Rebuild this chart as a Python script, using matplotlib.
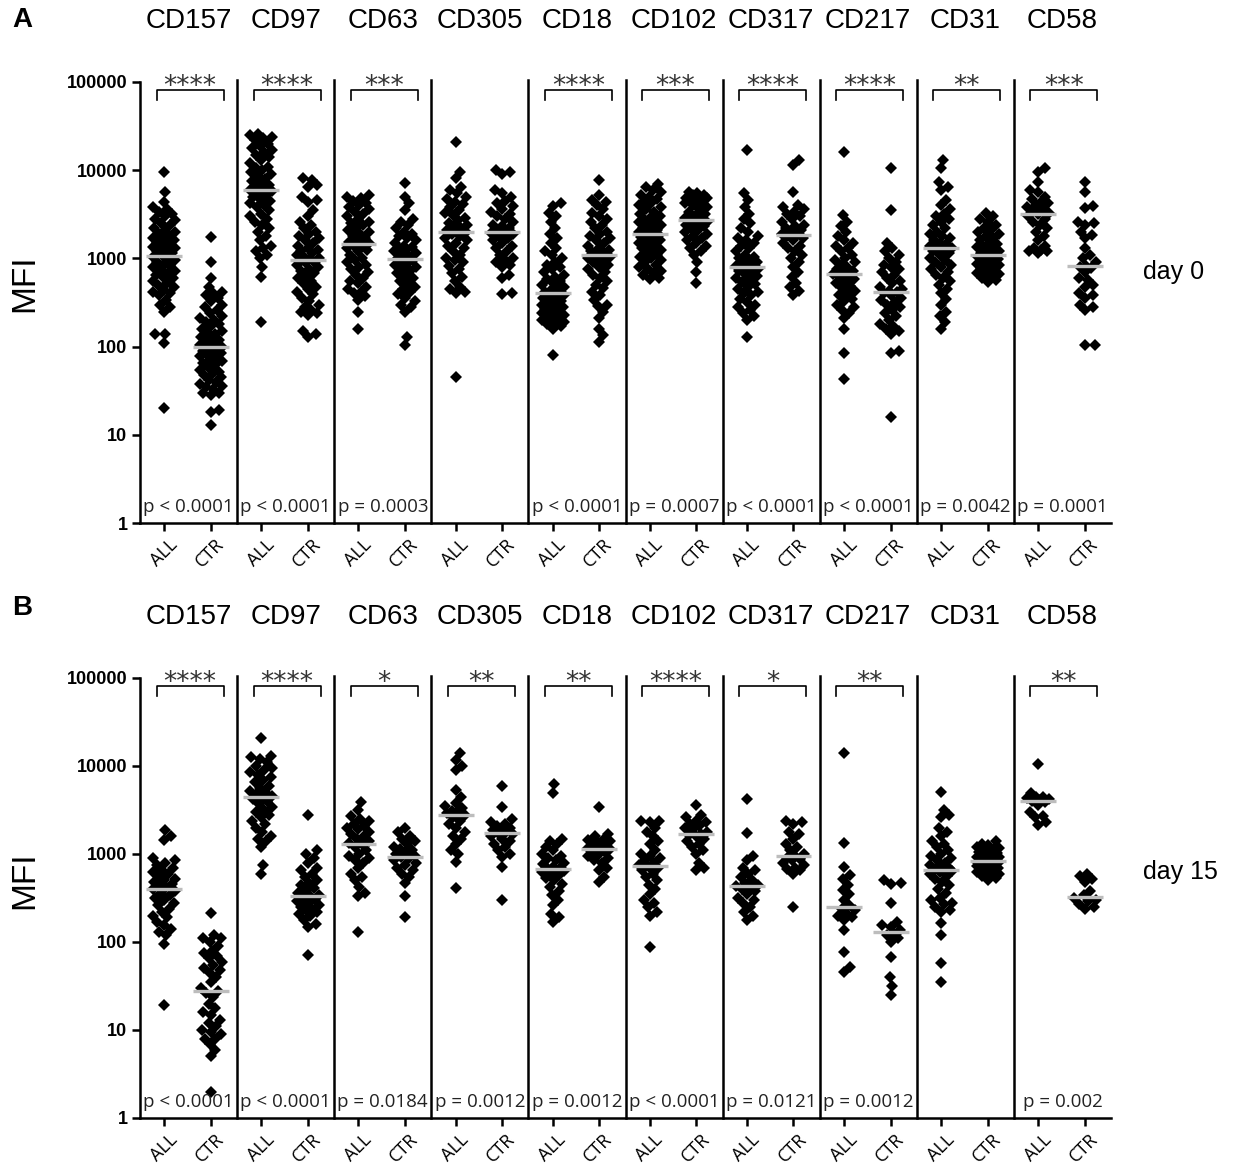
import numpy as np
import matplotlib.pyplot as plt
from matplotlib.transforms import ScaledTranslation

plt.rcParams['font.family'] = ['Liberation Sans', 'DejaVu Sans']

markers = ['CD157', 'CD97', 'CD63', 'CD305', 'CD18', 'CD102', 'CD317', 'CD217', 'CD31', 'CD58']
groups = ['ALL', 'CTR']

# ---- day 0 (panel A), MFI per sample ----
d0_cd157_all = [9500, 5700, 4400, 3800, 3600, 3400, 3200, 3000, 2800, 2700, 2500, 2400, 2200, 2100, 2000,
                1900, 1800, 1700, 1650, 1600, 1500, 1450, 1400, 1350, 1300, 1250, 1200, 1150, 1100, 1050,
                1000, 950, 900, 870, 830, 800, 760, 720, 680, 650, 620, 600, 560, 530, 500, 470, 440, 420,
                400, 380, 340, 300, 280, 250, 140, 140, 110, 20]
d0_cd157_ctr = [1750, 900, 600, 470, 420, 400, 380, 360, 330, 300, 280, 260, 240, 220, 210, 200, 190, 180,
                170, 160, 150, 145, 140, 130, 125, 120, 115, 110, 105, 100, 100, 95, 90, 88, 85, 80, 78, 75,
                70, 68, 66, 62, 58, 55, 52, 50, 48, 45, 42, 40, 38, 36, 35, 33, 30, 30, 28, 19, 18, 13]
d0_cd97_all = [26000, 25000, 24000, 23000, 22000, 20000, 19000, 18000, 17000, 16000, 15000, 14000, 13000,
               12000, 11000, 10500, 10000, 9500, 9000, 8500, 8000, 7500, 7000, 6800, 6500, 6300, 6000, 5800,
               5500, 5200, 5000, 4700, 4500, 4200, 4000, 3800, 3500, 3200, 3000, 2800, 2600, 2400, 2200,
               2000, 1800, 1600, 1400, 1300, 1200, 1100, 1000, 800, 620, 190]
d0_cd97_ctr = [8200, 7800, 6800, 6500, 5000, 4600, 4400, 3500, 3000, 2600, 2400, 2200, 2000, 1900, 1800,
               1700, 1600, 1500, 1400, 1300, 1250, 1200, 1150, 1100, 1050, 1000, 980, 950, 920, 900, 850,
               800, 760, 720, 680, 640, 600, 560, 520, 480, 450, 420, 390, 360, 330, 300, 280, 260, 250,
               240, 230, 150, 140, 130]
d0_cd63_all = [5200, 5000, 4800, 4500, 4300, 4000, 3800, 3600, 3400, 3200, 3000, 2800, 2600, 2500, 2400,
               2200, 2100, 2000, 1900, 1800, 1700, 1600, 1550, 1500, 1450, 1400, 1300, 1250, 1200, 1100,
               1000, 950, 900, 850, 800, 750, 700, 650, 600, 560, 520, 480, 450, 420, 400, 370, 340, 250, 160]
d0_cd63_ctr = [7100, 5000, 4200, 3500, 2800, 2600, 2400, 2200, 2000, 1900, 1800, 1700, 1600, 1500, 1400,
               1350, 1300, 1250, 1200, 1150, 1100, 1050, 1000, 980, 950, 900, 870, 840, 800, 760, 720, 680,
               640, 600, 560, 520, 480, 450, 420, 390, 360, 330, 300, 280, 250, 130, 105]
d0_cd305_all = [21000, 9600, 8200, 6500, 6000, 5500, 5000, 4700, 4400, 4100, 3800, 3500, 3300, 3100, 2900,
                2700, 2500, 2400, 2300, 2200, 2100, 2000, 2000, 1900, 1800, 1700, 1600, 1500, 1400, 1300,
                1200, 1100, 1000, 950, 900, 820, 750, 680, 620, 560, 480, 450, 420, 400, 45]
d0_cd305_ctr = [10000, 9500, 9000, 6000, 5500, 5000, 4500, 4200, 3900, 3600, 3400, 3200, 3000, 2800, 2600,
                2400, 2300, 2200, 2100, 2000, 1950, 1900, 1800, 1700, 1600, 1500, 1400, 1300, 1200, 1100,
                1000, 950, 900, 850, 800, 650, 600, 400, 390]
d0_cd18_all = [4200, 3900, 3300, 3000, 2600, 2200, 1900, 1700, 1500, 1300, 1200, 1100, 1000, 900, 850, 800,
               750, 700, 650, 620, 580, 550, 520, 500, 480, 460, 440, 420, 410, 400, 390, 380, 370, 360, 340,
               330, 320, 310, 300, 290, 280, 275, 270, 260, 250, 240, 235, 230, 220, 215, 210, 200, 190, 185,
               180, 170, 160, 80]
d0_cd18_ctr = [7800, 5200, 4600, 4400, 4000, 3600, 3300, 3000, 2800, 2600, 2400, 2200, 2000, 1900, 1800,
               1700, 1600, 1500, 1400, 1300, 1250, 1200, 1150, 1100, 1050, 1000, 950, 900, 850, 800, 750,
               700, 650, 600, 550, 500, 460, 420, 380, 340, 300, 290, 250, 210, 160, 135, 113]
d0_cd102_all = [7000, 6500, 6000, 5600, 5300, 5000, 4700, 4400, 4200, 4000, 3800, 3600, 3400, 3200, 3000,
                2900, 2800, 2700, 2600, 2500, 2400, 2300, 2200, 2100, 2050, 2000, 1950, 1900, 1850, 1800,
                1750, 1700, 1650, 1600, 1550, 1500, 1450, 1400, 1350, 1300, 1250, 1200, 1150, 1100, 1050,
                1000, 950, 900, 850, 800, 760, 720, 680, 640, 600, 580]
d0_cd102_ctr = [5600, 5500, 5300, 5200, 5000, 4900, 4800, 4600, 4500, 4400, 4200, 4000, 3800, 3600, 3400,
                3200, 3000, 2900, 2800, 2700, 2600, 2500, 2400, 2300, 2200, 2100, 2000, 1900, 1800, 1700,
                1600, 1500, 1400, 1300, 1200, 1100, 900, 700, 520]
d0_cd317_all = [17000, 5500, 4600, 3800, 3200, 2800, 2500, 2200, 2000, 1800, 1700, 1600, 1500, 1400, 1300,
                1200, 1100, 1050, 1000, 950, 900, 860, 830, 800, 780, 750, 720, 690, 660, 630, 600, 570,
                540, 510, 480, 450, 420, 400, 380, 350, 320, 300, 280, 260, 240, 220, 200, 130]
d0_cd317_ctr = [13000, 11500, 5600, 4000, 3800, 3600, 3400, 3200, 3000, 2800, 2600, 2400, 2300, 2200, 2100,
                2000, 1900, 1850, 1800, 1700, 1600, 1500, 1400, 1300, 1200, 1100, 1000, 900, 800, 700, 620,
                530, 470, 430, 385]
d0_cd217_all = [16000, 3100, 2600, 2300, 2000, 1800, 1600, 1500, 1400, 1300, 1200, 1100, 1000, 950, 900,
                850, 800, 760, 720, 690, 660, 640, 610, 580, 550, 520, 490, 460, 430, 400, 380, 350, 330,
                300, 280, 260, 240, 210, 160, 85, 43]
d0_cd217_ctr = [10700, 3500, 1500, 1300, 1200, 1100, 1000, 900, 850, 800, 750, 700, 650, 600, 560, 520,
                480, 450, 430, 415, 400, 380, 360, 340, 320, 300, 280, 260, 240, 220, 200, 180, 170, 160,
                150, 140, 90, 85, 16]
d0_cd31_all = [13000, 10500, 7300, 6500, 5900, 4600, 4000, 3600, 3200, 3000, 2800, 2600, 2400, 2200, 2000,
               1900, 1800, 1700, 1600, 1500, 1450, 1400, 1350, 1300, 1250, 1200, 1150, 1100, 1000, 950, 900,
               850, 800, 750, 700, 650, 600, 550, 500, 450, 400, 350, 300, 250, 220, 190, 160]
d0_cd31_ctr = [3300, 3000, 2800, 2600, 2400, 2200, 2100, 2000, 1900, 1800, 1700, 1600, 1500, 1450, 1400,
               1350, 1300, 1250, 1200, 1150, 1100, 1080, 1060, 1050, 1030, 1000, 980, 950, 920, 900, 870,
               840, 810, 780, 750, 720, 690, 660, 630, 600, 570, 540]
d0_cd58_all = [10500, 9500, 7300, 6000, 5600, 5000, 4700, 4400, 4200, 4000, 3800, 3600, 3400, 3300, 3200,
               3000, 2800, 2600, 2400, 2200, 2000, 1800, 1600, 1400, 1300, 1250, 1200, 1200, 1150]
d0_cd58_ctr = [7300, 5600, 3900, 3700, 2600, 2500, 2400, 2000, 1850, 1700, 1300, 1100, 1000, 900, 820, 800,
               780, 700, 600, 570, 500, 470, 400, 380, 360, 300, 280, 260, 105, 105]

# ---- day 15 (panel B) ----
d15_cd157_all = [1880, 1600, 1450, 900, 850, 800, 750, 700, 650, 620, 600, 560, 520, 500, 480, 460, 440,
                 420, 400, 380, 360, 340, 320, 300, 280, 260, 240, 220, 200, 190, 170, 155, 140, 130, 120,
                 95, 19]
d15_cd157_ctr = [215, 120, 110, 110, 100, 90, 80, 75, 70, 65, 60, 55, 50, 48, 45, 40, 35, 30, 28, 26, 24,
                 20, 18, 16, 15, 13, 12, 11, 10, 9.5, 9, 8, 8, 7, 6, 5, 2]
d15_cd97_all = [20800, 13000, 12500, 12000, 11000, 10000, 9500, 9000, 8500, 8000, 7500, 7000, 6500, 6000,
                5600, 5200, 5000, 4800, 4600, 4400, 4200, 4000, 3700, 3400, 3200, 3000, 2800, 2600, 2400,
                2200, 2000, 1800, 1600, 1500, 1400, 1200, 750, 600]
d15_cd97_ctr = [2770, 1100, 1000, 900, 800, 700, 650, 600, 550, 500, 470, 440, 410, 380, 360, 340, 330,
                320, 300, 290, 280, 260, 250, 240, 230, 220, 210, 200, 180, 160, 150, 72]
d15_cd63_all = [3900, 3200, 2700, 2500, 2400, 2200, 2100, 2000, 1900, 1800, 1700, 1600, 1500, 1400, 1350,
                1300, 1200, 1100, 1000, 950, 900, 850, 800, 700, 600, 550, 500, 420, 360, 330, 130]
d15_cd63_ctr = [1950, 1800, 1600, 1500, 1400, 1300, 1200, 1150, 1100, 1050, 1000, 950, 920, 900, 850, 800,
                750, 700, 650, 600, 550, 470, 330, 190]
d15_cd305_all = [14000, 11700, 10000, 9000, 5300, 4400, 3800, 3500, 3300, 3100, 3000, 2900, 2800, 2600,
                 2400, 2200, 2000, 1800, 1600, 1500, 1300, 1100, 1000, 810, 410]
d15_cd305_ctr = [6000, 3400, 2500, 2300, 2200, 2100, 2000, 1900, 1850, 1800, 1750, 1700, 1600, 1500, 1400,
                 1300, 1200, 1100, 1000, 930, 710, 300]
d15_cd18_all = [6300, 4900, 1500, 1400, 1300, 1200, 1100, 1000, 950, 900, 850, 800, 760, 720, 700, 680,
                660, 640, 620, 600, 570, 540, 500, 460, 420, 380, 340, 300, 260, 210, 190, 170]
d15_cd18_ctr = [3400, 1700, 1600, 1500, 1450, 1400, 1350, 1300, 1250, 1200, 1180, 1160, 1140, 1100, 1050,
                1000, 950, 900, 850, 800, 700, 650, 550, 480]
d15_cd102_all = [2400, 2400, 2300, 2000, 1800, 1600, 1400, 1300, 1100, 1000, 950, 900, 850, 800, 750, 720,
                 700, 650, 600, 550, 500, 450, 400, 350, 300, 280, 250, 220, 200, 88]
d15_cd102_ctr = [3600, 2800, 2600, 2400, 2300, 2200, 2100, 2000, 1900, 1800, 1700, 1650, 1600, 1500, 1400,
                 1300, 1200, 1100, 1000, 800, 700, 650]
d15_cd317_all = [4200, 1740, 950, 850, 700, 650, 600, 550, 500, 470, 450, 430, 420, 400, 380, 350, 320,
                 300, 280, 250, 220, 200, 180]
d15_cd317_ctr = [2400, 2300, 2200, 1800, 1700, 1500, 1300, 1200, 1100, 1000, 950, 900, 880, 850, 800, 750,
                 700, 680, 650, 600, 250]
d15_cd217_all = [14000, 1330, 710, 570, 520, 450, 390, 350, 300, 260, 240, 230, 210, 200, 190, 180, 137,
                 77, 52, 46]
d15_cd217_ctr = [500, 470, 460, 280, 170, 155, 150, 137, 123, 120, 110, 100, 67, 40, 32, 25]
d15_cd31_all = [5100, 3200, 2800, 2600, 2000, 1800, 1600, 1400, 1300, 1200, 1100, 1000, 950, 900, 850, 800,
                750, 720, 700, 680, 650, 640, 620, 600, 560, 520, 480, 440, 400, 360, 320, 300, 280, 270,
                250, 230, 220, 165, 120, 57, 35]
d15_cd31_ctr = [1400, 1300, 1250, 1200, 1180, 1150, 1100, 1080, 1050, 1020, 1000, 980, 960, 950, 930, 920,
                900, 890, 880, 860, 850, 840, 830, 820, 810, 800, 790, 780, 770, 760, 740, 730, 720, 700,
                690, 680, 660, 640, 620, 600, 580, 560, 530, 500]
d15_cd58_all = [10500, 4900, 4500, 4400, 4300, 4200, 4100, 4000, 3900, 3600, 3000, 2700, 2600, 2300, 2150]
d15_cd58_ctr = [600, 560, 520, 480, 380, 340, 315, 300, 290, 270, 250, 240]

stars_d0 = ['****', '****', '***', '', '****', '***', '****', '****', '**', '***']
pvals_d0 = ['p < 0.0001', 'p < 0.0001', 'p = 0.0003', '', 'p < 0.0001', 'p = 0.0007',
            'p < 0.0001', 'p < 0.0001', 'p = 0.0042', 'p = 0.0001']
stars_d15 = ['****', '****', '*', '**', '**', '****', '*', '**', '', '**']
pvals_d15 = ['p < 0.0001', 'p < 0.0001', 'p = 0.0184', 'p = 0.0012', 'p = 0.0012', 'p < 0.0001',
             'p = 0.0121', 'p = 0.0012', '', 'p = 0.002']

d0_all = [d0_cd157_all, d0_cd97_all, d0_cd63_all, d0_cd305_all, d0_cd18_all,
          d0_cd102_all, d0_cd317_all, d0_cd217_all, d0_cd31_all, d0_cd58_all]
d0_ctr = [d0_cd157_ctr, d0_cd97_ctr, d0_cd63_ctr, d0_cd305_ctr, d0_cd18_ctr,
          d0_cd102_ctr, d0_cd317_ctr, d0_cd217_ctr, d0_cd31_ctr, d0_cd58_ctr]
d15_all = [d15_cd157_all, d15_cd97_all, d15_cd63_all, d15_cd305_all, d15_cd18_all,
           d15_cd102_all, d15_cd317_all, d15_cd217_all, d15_cd31_all, d15_cd58_all]
d15_ctr = [d15_cd157_ctr, d15_cd97_ctr, d15_cd63_ctr, d15_cd305_ctr, d15_cd18_ctr,
           d15_cd102_ctr, d15_cd317_ctr, d15_cd217_ctr, d15_cd31_ctr, d15_cd58_ctr]

# === layout (pixels of the 1234x1166 canvas) ===
W, H = 1234, 1166
X0, GROUP_PX = 140, 97.1
DEC_PX = 88.2
XPOS = [0.25, 0.73]


def swarm(vals, r=5.0, cap=11.0):
    # greedy beeswarm in pixel space, diamonds pile up once the cap is reached
    y = np.log10(vals) * DEC_PX
    xs = np.zeros(len(y))
    cands = [0.0]
    for k in np.arange(1.0, cap + 0.01, 1.0):
        cands += [k, -k]
    px, py = [], []
    for i in np.argsort(y):
        best, best_d = 0.0, -1.0
        for c in cands:
            if not px:
                best = c
                break
            d = np.min(np.abs(np.array(px) - c) + np.abs(np.array(py) - y[i]))
            if d >= 2 * r:
                best = c
                break
            if d > best_d + 0.5:
                best_d, best = d, c
        xs[i] = best
        px.append(best)
        py.append(y[i])
    return xs / GROUP_PX


def draw_panel(ax, all_vals, ctr_vals, stars, pvals):
    ax.set_yscale('log')
    ax.set_ylim(1, 1e5)
    ax.set_xlim(0, 10)
    for s in ['top', 'right']:
        ax.spines[s].set_visible(False)
    for s in ['left', 'bottom']:
        ax.spines[s].set_linewidth(1.8)

    for i in range(10):
        for j, vals in enumerate([all_vals[i], ctr_vals[i]]):
            xc = i + XPOS[j]
            ax.plot(xc + swarm(vals), vals, 'D', ms=6.3, mew=0, color='black', zorder=3, clip_on=False)
            med = np.median(vals)
            ax.plot([xc - 0.185, xc + 0.185], [med, med], color='#bdbdbd', lw=2.4,
                    solid_capstyle='butt', zorder=4)
        if i > 0:
            ax.plot([i, i], [1, 1.06e5], color='black', lw=1.8, clip_on=False, zorder=2)
        if stars[i]:
            ax.plot([i + 0.17, i + 0.17, i + 0.86, i + 0.86], [6.3e4, 8.1e4, 8.1e4, 6.3e4],
                    color='black', lw=1.2, clip_on=False)
            ax.text(i + 0.515, 7.4e4, stars[i], ha='center', va='baseline', fontsize=19,
                    family='DejaVu Sans', color='#333333', clip_on=False)
        if pvals[i]:
            ax.text(i + 0.5, 1.52, pvals[i], ha='center', va='center', fontsize=13.5,
                    family='Open Sans', color='#222222')

    ax.set_yticks([1, 10, 100, 1000, 1e4, 1e5])
    ax.set_yticklabels(['1', '10', '100', '1000', '10000', '100000'], fontweight='bold', fontsize=13)
    ax.yaxis.set_minor_locator(plt.NullLocator())
    ax.tick_params(axis='y', length=6, width=1.8, pad=3)
    xt = [i + p for i in range(10) for p in XPOS]
    ax.set_xticks(xt)
    ax.set_xticklabels(groups * 10, rotation=45, ha='right', rotation_mode='anchor',
                       fontsize=13, family='Open Sans')
    ax.tick_params(axis='x', length=6, width=1.8, pad=3)
    shift = ScaledTranslation(4 / 100, 0, fig.dpi_scale_trans)
    for lbl in ax.get_xticklabels():
        lbl.set_transform(lbl.get_transform() + shift)


fig = plt.figure(figsize=(W / 100, H / 100), dpi=100)
axA = fig.add_axes([X0 / W, 1 - 523 / H, GROUP_PX * 10 / W, 441 / H])
axB = fig.add_axes([X0 / W, 1 - 1118 / H, GROUP_PX * 10 / W, 440 / H])
draw_panel(axA, d0_all, d0_ctr, stars_d0, pvals_d0)
draw_panel(axB, d15_all, d15_ctr, stars_d15, pvals_d15)

for i, m in enumerate(markers):
    xf = (X0 + GROUP_PX * (i + 0.5)) / W
    fig.text(xf, 1 - 21 / H, m, ha='center', va='center', fontsize=20)
    fig.text(xf, 1 - 617 / H, m, ha='center', va='center', fontsize=20)

fig.text(25 / W, 1 - 283 / H, 'MFI', rotation=90, ha='center', va='center', fontsize=24)
fig.text(25 / W, 1 - 880 / H, 'MFI', rotation=90, ha='center', va='center', fontsize=24)
fig.text(1143 / W, 1 - 272 / H, 'day 0', ha='left', va='center', fontsize=18)
fig.text(1143 / W, 1 - 872 / H, 'day 15', ha='left', va='center', fontsize=18)
fig.text(12 / W, 1 - 20 / H, 'A', ha='left', va='center', fontsize=20, fontweight='bold')
fig.text(12 / W, 1 - 608 / H, 'B', ha='left', va='center', fontsize=20, fontweight='bold')

fig.savefig('out.png', dpi=100)
